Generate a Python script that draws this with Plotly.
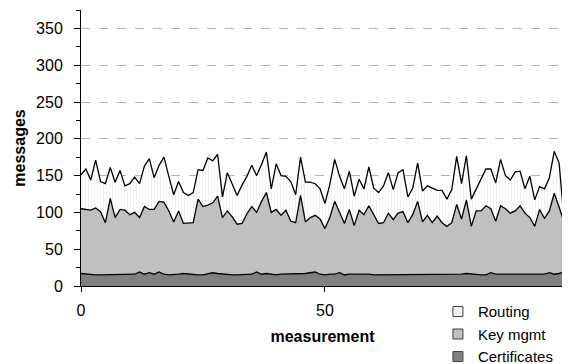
import plotly.graph_objects as go

measurement = list(range(100))

total_cum = [151,159,144,171,142,139,161,141,157,136,139,148,139,163,173,147,164,175,149,124,
             142,127,123,127,158,157,174,170,179,121,154,139,123,137,149,164,150,165,182,132,
             166,150,149,142,124,175,141,141,139,132,112,138,172,149,132,156,122,145,132,162,
             133,127,136,154,131,154,158,121,133,167,129,136,133,130,130,118,131,176,139,177,
             118,132,147,159,159,140,172,150,144,155,156,132,149,117,135,132,147,183,167,90]

keymgmt_cum = [105,104,103,106,101,86,119,93,104,103,97,100,93,108,104,104,115,114,102,87,
               102,85,85,86,118,108,110,113,122,93,102,94,84,85,98,108,100,115,127,100,
               104,96,103,88,86,123,87,93,96,91,78,93,115,100,85,104,82,103,97,109,
               96,85,86,99,90,99,101,86,97,115,87,96,86,95,86,81,86,111,91,117,
               81,102,102,109,105,88,109,105,99,102,109,99,93,81,104,92,102,126,107,87]

certificates = [17,16,16,15,15,15,15,15,15,15,15,16,19,16,18,16,19,16,15,15,
                16,17,16,15,15,15,16,18,17,16,15,15,15,15,15,16,19,16,17,16,
                15,16,16,16,16,16,17,18,19,16,15,16,16,18,15,16,16,17,16,16,
                15,15,15,15,15,16,16,15,15,16,15,15,16,16,15,15,15,16,16,17,
                16,15,15,15,18,16,16,16,16,16,16,17,16,16,16,16,18,16,17,19]

key_mgmt = [k - c for k, c in zip(keymgmt_cum, certificates)]
routing = [t - k for t, k in zip(total_cum, keymgmt_cum)]

series_names = ["Certificates", "Key mgmt", "Routing"]
fill_colors = ["#808080", "#c0c0c0", "#f4f4f4"]

FONT = "Liberation Sans, Arial, sans-serif"

fig = go.Figure()
for name, vals, col in zip(series_names, [certificates, key_mgmt, routing], fill_colors):
    kw = {}
    if name == "Routing":
        kw["fillpattern"] = dict(shape="|", fgcolor="#dcdcdc", bgcolor="#ffffff", size=3, solidity=0.25)
    fig.add_trace(go.Scatter(
        x=measurement, y=vals, name=name, mode="lines", stackgroup="one",
        line=dict(color="black", width=1.3), fillcolor=col, showlegend=False, **kw))

# legend entries (top to bottom: Routing, Key mgmt, Certificates)
for name, col in zip(series_names[::-1], fill_colors[::-1]):
    fig.add_trace(go.Scatter(
        x=[None], y=[None], name=name, mode="markers", legendgroup=name,
        marker=dict(symbol="square", size=10, color=col, line=dict(color="#404040", width=1))))

fig.add_shape(type="line", xref="paper", yref="paper", x0=1, x1=1, y0=0, y1=1,
              line=dict(color="#a0a0a0", width=1))

fig.update_layout(
    width=562, height=356,
    margin=dict(l=73, r=6, t=2, b=78, autoexpand=False),
    paper_bgcolor="white", plot_bgcolor="white",
    font=dict(family=FONT, size=16, color="black"),
    showlegend=True,
    legend=dict(xref="container", yref="container", x=0.765, xanchor="left",
                y=0.193, yanchor="top",
                traceorder="grouped", tracegroupgap=0,
                font=dict(size=15), bgcolor="rgba(0,0,0,0)", itemwidth=30),
    xaxis=dict(range=[0, 99], tickvals=[0, 50], showgrid=False, zeroline=False,
               automargin=False,
               showline=True, linecolor="black", linewidth=1,
               ticks="outside", ticklen=5, tickcolor="black", ticklabelstandoff=5,
               title=dict(text="<b>measurement</b>", standoff=12, font=dict(size=16))),
    yaxis=dict(range=[0, 375], tickvals=[0, 50, 100, 150, 200, 250, 300, 350],
               automargin=False,
               showgrid=True, gridcolor="#b4b4b4", griddash="dash", gridwidth=1,
               zeroline=False, showline=True, linecolor="black", linewidth=1,
               ticks="outside", ticklen=6, tickcolor="black", ticklabelstandoff=8,
               minor=dict(tickvals=[25, 75, 125, 175, 225, 275, 325, 375], ticks="outside",
                          ticklen=4, tickcolor="black", showgrid=False),
               title=dict(text="<b>messages</b>", standoff=6, font=dict(size=16))),
)

fig.write_html("out.html")
